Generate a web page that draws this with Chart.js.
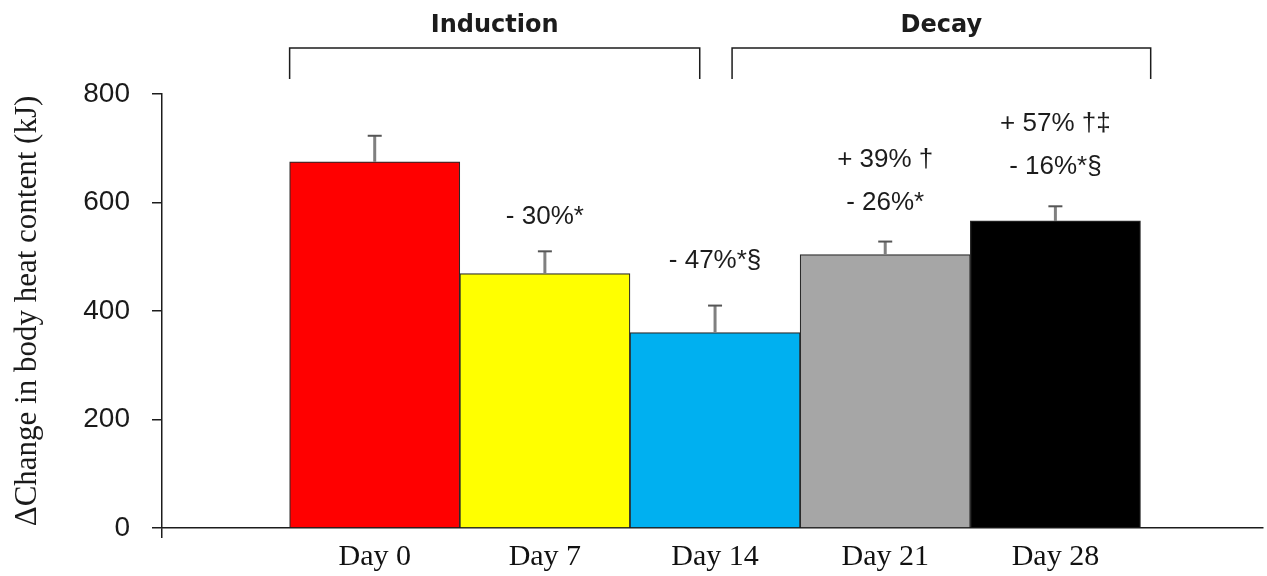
<!DOCTYPE html>
<html>
<head>
<meta charset="utf-8">
<script src="https://cdn.jsdelivr.net/npm/chart.js@4.4.0/dist/chart.umd.min.js"></script>
<style>
  html, body { margin: 0; padding: 0; background: #ffffff; }
  #wrap { width: 1267px; height: 576px; }
</style>
</head>
<body>
<div id="wrap"><canvas id="c" width="1267" height="576"></canvas></div>
<script>
// ---- data ----
const categories = ['Day 0', 'Day 7', 'Day 14', 'Day 21', 'Day 28'];
const heatValues = [675, 469, 360, 504, 566];
const errorValues = [48, 41, 50, 24, 27];
const changeLabels = [[], ['- 30%*'], ['- 47%*§'], ['+ 39% †', '- 26%*'], ['+ 57% †‡', '- 16%*§']];
const yTicks = [0, 200, 400, 600, 800];
const phaseNames = ['Induction', 'Decay'];
const axisTitle = 'ΔChange in body heat content (kJ)';

// ---- styles / layout ----
const barColors = ['#FF0000', '#FFFF00', '#00B0F0', '#A6A6A6', '#000000'];
const ink = '#1c1c1c';
const labelGap = [0, 34, 45, 39, 39];      // px above error cap to lowest label line
const labelLine = 43;                      // px between label lines
const phaseSpans = [[-0.5, 1.91], [2.1, 4.56]]; // bracket extents in x-axis units
const xMin = -1.25, xMax = 5.22;

const points = categories.map((c, i) => ({ x: i, y: heatValues[i] }));

const overlay = {
  id: 'overlay',
  afterDatasetsDraw(chart) {
    const { ctx, scales: { x, y } } = chart;
    ctx.save();
    // error bars (upper only)
    categories.forEach((c, i) => {
      const px = x.getPixelForValue(i);
      const y0 = y.getPixelForValue(heatValues[i]);
      const y1 = y.getPixelForValue(heatValues[i] + errorValues[i]);
      ctx.strokeStyle = '#808080';
      ctx.lineWidth = 3;
      ctx.beginPath(); ctx.moveTo(px, y0); ctx.lineTo(px, y1); ctx.stroke();
      ctx.strokeStyle = '#555555';
      ctx.lineWidth = 2;
      ctx.beginPath(); ctx.moveTo(px - 7, y1); ctx.lineTo(px + 7, y1); ctx.stroke();
      // change labels
      ctx.fillStyle = ink;
      ctx.font = '26px "Liberation Sans", Arial, sans-serif';
      ctx.textAlign = 'center';
      ctx.textBaseline = 'middle';
      const lines = changeLabels[i];
      const n = lines.length;
      lines.forEach((t, k) => {
        const ty = y1 - labelGap[i] - (n - 1 - k) * labelLine;
        ctx.fillText(t, px, ty);
      });
    });
    // phase brackets
    ctx.strokeStyle = ink;
    ctx.lineWidth = 1.5;
    const by = 48, bEnd = 79;
    phaseSpans.forEach((s, k) => {
      const a = x.getPixelForValue(s[0]);
      const b = x.getPixelForValue(s[1]);
      ctx.beginPath();
      ctx.moveTo(a, bEnd); ctx.lineTo(a, by); ctx.lineTo(b, by); ctx.lineTo(b, bEnd);
      ctx.stroke();
      ctx.fillStyle = ink;
      ctx.font = 'bold 24px "DejaVu Sans", sans-serif';
      ctx.textAlign = 'center';
      ctx.textBaseline = 'alphabetic';
      ctx.fillText(phaseNames[k], (a + b) / 2, 32);
    });
    ctx.restore();
  }
};

new Chart(document.getElementById('c'), {
  type: 'bar',
  data: {
    datasets: [{
      data: points,
      backgroundColor: barColors,
      borderColor: '#2a2a2a',
      borderWidth: 1.2,
      barPercentage: 1.0,
      categoryPercentage: 1.0
    }]
  },
  options: {
    responsive: false,
    animation: false,
    devicePixelRatio: 1,
    layout: { padding: { top: 94, right: 1, bottom: 0, left: 0 } },
    plugins: { legend: { display: false }, tooltip: { enabled: false } },
    scales: {
      x: {
        type: 'linear',
        min: xMin,
        max: xMax,
        offset: false,
        grid: {
          display: true,
          offset: false,
          drawOnChartArea: false,
          tickLength: 10,
          lineWidth: 1.5,
          color: (ctx) => (ctx.tick && ctx.tick.value === xMin) ? ink : 'rgba(0,0,0,0)'
        },
        border: { display: true, color: ink, width: 1.5 },
        ticks: {
          stepSize: 1,
          autoSkip: false,
          maxRotation: 0,
          padding: 4,
          color: '#111',
          font: { family: '"Liberation Serif", "Times New Roman", serif', size: 30, lineHeight: 1.0 },
          callback: (v) => (Number.isInteger(v) && v >= 0 && v < categories.length) ? categories[v] : ''
        }
      },
      y: {
        min: 0,
        max: 800,
        afterBuildTicks: (scale) => { scale.ticks = yTicks.map(v => ({ value: v })); },
        afterFit: (scale) => { scale.width = 162; },
        grid: { display: true, drawOnChartArea: false, tickLength: 10, color: ink, lineWidth: 1.5 },
        border: { display: true, color: ink, width: 1.5 },
        ticks: {
          padding: 22,
          color: '#1a1a1a',
          font: { family: '"Liberation Sans", Arial, sans-serif', size: 28 }
        },
        title: {
          display: true,
          text: axisTitle,
          color: '#1a1a1a',
          padding: { top: 9, bottom: 0 },
          font: { family: '"Liberation Serif", "Times New Roman", serif', size: 31 }
        }
      }
    }
  },
  plugins: [overlay]
});
</script>
</body>
</html>
